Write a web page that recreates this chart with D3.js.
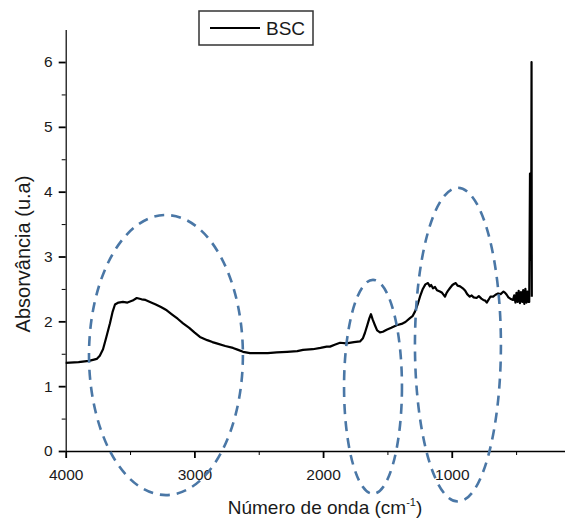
<!DOCTYPE html>
<html>
<head>
<meta charset="utf-8">
<script src="https://cdn.jsdelivr.net/npm/d3@7"></script>
<style>
  body { margin: 0; background: #fff; }
  svg { display: block; }
  text { font-family: "Liberation Sans", Arial, sans-serif; fill: #1a1a1a; }
</style>
</head>
<body>
<svg id="chart" width="565" height="519"></svg>
<script>
// FTIR spectrum of BSC: wavenumber (cm-1) and absorbance (a.u.)
const wavenumber = [
  4000, 3900, 3820, 3780, 3759, 3735, 3710, 3685, 3656, 3635, 3617, 3590,
  3555, 3520, 3480, 3448, 3410, 3380, 3345, 3300, 3260, 3215, 3170, 3130,
  3088, 3040, 3000, 2957, 2900, 2860, 2827, 2760, 2700, 2660, 2622, 2568,
  2500, 2430, 2360, 2280, 2200, 2156, 2080, 2020, 1972, 1946, 1910, 1868,
  1820, 1760, 1713, 1690, 1675, 1655, 1640, 1628, 1615, 1597, 1580, 1558,
  1535, 1506, 1470, 1428, 1390, 1360, 1325, 1305, 1286, 1265, 1247, 1225,
  1205, 1185, 1170, 1160, 1146, 1130, 1115, 1092, 1075, 1053, 1040, 1030,
  1015, 995, 980, 969, 955, 935, 914, 895, 880, 860, 845, 830,
  807, 790, 770, 755, 740, 728, 715, 700, 678, 660, 640, 620,
  598, 585, 573, 560, 545, 524, 515, 505, 497, 488, 480, 470,
  462, 452, 445, 436, 428, 420, 412, 405, 398, 392, 389, 386,
  383, 380, 378
];
const absorbance = [
  1.36, 1.37, 1.39, 1.41, 1.42, 1.47, 1.57, 1.75, 1.97, 2.15, 2.26, 2.29,
  2.30, 2.29, 2.32, 2.36, 2.34, 2.33, 2.30, 2.26, 2.22, 2.17, 2.10, 2.04,
  1.97, 1.90, 1.83, 1.76, 1.71, 1.68, 1.66, 1.62, 1.59, 1.56, 1.53, 1.51,
  1.51, 1.51, 1.52, 1.53, 1.54, 1.56, 1.57, 1.59, 1.61, 1.61, 1.64, 1.67,
  1.66, 1.68, 1.69, 1.74, 1.82, 1.95, 2.05, 2.11, 2.03, 1.94, 1.86, 1.83,
  1.84, 1.87, 1.90, 1.94, 1.96, 1.99, 2.05, 2.08, 2.15, 2.26, 2.38, 2.50,
  2.57, 2.59, 2.54, 2.56, 2.51, 2.53, 2.48, 2.46, 2.44, 2.38, 2.44, 2.47,
  2.51, 2.56, 2.58, 2.59, 2.55, 2.54, 2.51, 2.47, 2.42, 2.38, 2.40, 2.37,
  2.36, 2.39, 2.35, 2.33, 2.32, 2.29, 2.33, 2.38, 2.38, 2.41, 2.43, 2.42,
  2.46, 2.44, 2.41, 2.37, 2.35, 2.33, 2.40, 2.29, 2.44, 2.30, 2.47, 2.28,
  2.45, 2.30, 2.48, 2.27, 2.50, 2.29, 2.46, 2.30, 2.30, 4.28, 2.95, 4.28,
  2.95, 6.00, 2.38
];

// Axis ticks
const xTicks = [4000, 3000, 2000, 1000];
const xMinorTicks = [3500, 2500, 1500, 500];
const yTicks = [0, 1, 2, 3, 4, 5, 6];
const yMinorTicks = [0.5, 1.5, 2.5, 3.5, 4.5, 5.5];

// Highlighted band regions (dashed ellipses): centre and half-extents in data units
const regionCenterWavenumber = [3221, 1612, 952];
const regionCenterAbsorbance = [1.48, 0.99, 1.64];
const regionHalfWidth = [598, 225, 334];
const regionHalfHeight = [2.16, 1.65, 2.42];

const seriesName = "BSC";

const svg = d3.select("#chart");
const x = d3.scaleLinear().domain([4000, 120]).range([65.7, 565]);
const y = d3.scaleLinear().domain([0, 6.5]).range([451, 29.6]);

// X axis: minor ticks, then major ticks with labels
svg.append("g")
  .attr("transform", `translate(0,${y(0)})`)
  .call(d3.axisBottom(x).tickValues(xMinorTicks).tickSize(4).tickSizeOuter(0).tickFormat(""))
  .call(g => g.select(".domain").remove());
const xAxis = svg.append("g")
  .attr("transform", `translate(0,${y(0)})`)
  .call(d3.axisBottom(x).tickValues(xTicks).tickSize(7).tickSizeOuter(0).tickPadding(11).tickFormat(d3.format("d")));
xAxis.select(".domain").attr("stroke", "#000").attr("stroke-width", 1.6);
xAxis.selectAll(".tick line").attr("stroke-width", 1.8);
xAxis.selectAll("text").attr("font-size", 15.5).attr("fill", "#1a1a1a")
  .style("font-family", '"Liberation Sans", Arial, sans-serif');

// Y axis
svg.append("g")
  .attr("transform", `translate(${x(4000)},0)`)
  .call(d3.axisLeft(y).tickValues(yMinorTicks).tickSize(4).tickSizeOuter(0).tickFormat(""))
  .call(g => g.select(".domain").remove());
const yAxis = svg.append("g")
  .attr("transform", `translate(${x(4000)},0)`)
  .call(d3.axisLeft(y).tickValues(yTicks).tickSize(7).tickSizeOuter(0).tickPadding(6).tickFormat(d3.format("d")));
yAxis.select(".domain").attr("stroke", "#000").attr("stroke-width", 1.2);
yAxis.selectAll(".tick line").attr("stroke-width", 1.8);
yAxis.selectAll("text").attr("font-size", 15.5).attr("fill", "#1a1a1a")
  .style("font-family", '"Liberation Sans", Arial, sans-serif');

// Spectrum
const points = wavenumber.map((w, i) => [w, absorbance[i]]);
svg.append("path")
  .datum(points)
  .attr("fill", "none")
  .attr("stroke", "#000")
  .attr("stroke-width", 2.2)
  .attr("stroke-linejoin", "round")
  .attr("d", d3.line().x(d => x(d[0])).y(d => y(d[1])));

// Dashed ellipses marking the absorption regions
const regions = regionCenterWavenumber.map((w, i) => ({
  w, a: regionCenterAbsorbance[i], hw: regionHalfWidth[i], hh: regionHalfHeight[i]
}));
svg.append("g").selectAll("ellipse")
  .data(regions)
  .join("ellipse")
  .attr("cx", d => x(d.w))
  .attr("cy", d => y(d.a))
  .attr("rx", d => Math.abs(x(d.w - d.hw) - x(d.w)))
  .attr("ry", d => Math.abs(y(d.a + d.hh) - y(d.a)))
  .attr("fill", "none")
  .attr("stroke", "#4a77a6")
  .attr("stroke-width", 2.6)
  .attr("stroke-dasharray", "10,7");

// Axis titles
svg.append("text")
  .attr("transform", "translate(30,254) rotate(-90)")
  .attr("text-anchor", "middle")
  .attr("font-size", 20)
  .text("Absorvância (u.a)");

const xTitle = svg.append("text")
  .attr("x", 325)
  .attr("y", 514)
  .attr("text-anchor", "middle")
  .attr("font-size", 19);
xTitle.append("tspan").text("Número de onda (cm");
xTitle.append("tspan").attr("font-size", 11).attr("dy", -8).text("-1");
xTitle.append("tspan").attr("dy", 8).text(")");

// Legend
const legend = svg.append("g");
legend.append("rect")
  .attr("x", 199).attr("y", 11).attr("width", 114).attr("height", 34)
  .attr("fill", "#fff").attr("stroke", "#333").attr("stroke-width", 1.5);
legend.append("line")
  .attr("x1", 210).attr("x2", 260).attr("y1", 28).attr("y2", 28)
  .attr("stroke", "#000").attr("stroke-width", 2.2);
legend.append("text")
  .attr("x", 266).attr("y", 35)
  .attr("font-size", 19)
  .text(seriesName);
</script>
</body>
</html>
